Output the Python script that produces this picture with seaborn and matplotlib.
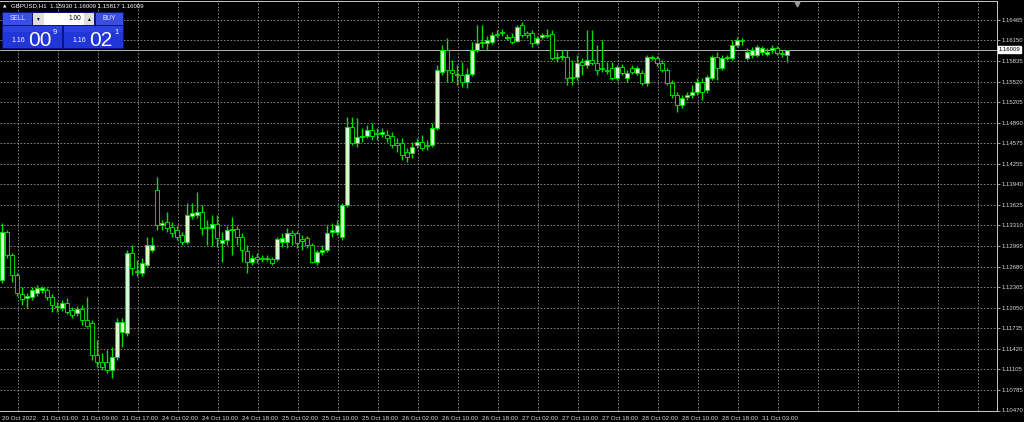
import numpy as np
import pandas as pd
import seaborn as sns
import matplotlib.pyplot as plt
from matplotlib.patches import Rectangle
from matplotlib.transforms import blended_transform_factory

# GBPUSD H1 candles (oldest first)
opens = [
    1.12475, 1.13212, 1.12859, 1.12552, 1.12261, 1.12199, 1.12215, 1.12276, 1.12322, 1.12322,
    1.12215, 1.12077, 1.12046, 1.12123, 1.12015, 1.11969, 1.12031, 1.11862, 1.11816, 1.11324,
    1.11217, 1.11217, 1.11094, 1.11294, 1.11677, 1.11662, 1.12890, 1.12613, 1.12583, 1.12706,
    1.12936, 1.13856, 1.13319, 1.13365, 1.13289, 1.13243, 1.13166, 1.13058, 1.13457, 1.13473,
    1.13519, 1.13289, 1.13273, 1.13335, 1.13043, 1.13089, 1.13243, 1.13258, 1.13136, 1.12920,
    1.12751, 1.12829, 1.12813, 1.12813, 1.12798, 1.12798, 1.13058, 1.13058, 1.13197, 1.13197,
    1.13104, 1.13120, 1.13013, 1.12751, 1.12905, 1.12936, 1.13212, 1.13212, 1.13136, 1.13626,
    1.14823, 1.14578, 1.14670, 1.14685, 1.14777, 1.14731, 1.14716, 1.14700, 1.14685, 1.14578,
    1.14578, 1.14439, 1.14424, 1.14547, 1.14593, 1.14547, 1.14547, 1.14808, 1.15667, 1.16005,
    1.15698, 1.15637, 1.15621, 1.15513, 1.15637, 1.16005, 1.16112, 1.16112, 1.16127, 1.16250,
    1.16280, 1.16189, 1.16204, 1.16143, 1.16388, 1.16265, 1.16265, 1.16112, 1.16204, 1.16235,
    1.16250, 1.15897, 1.15897, 1.15897, 1.15590, 1.15590, 1.15820, 1.15774, 1.15851, 1.15805,
    1.15728, 1.15698, 1.15728, 1.15574, 1.15744, 1.15574, 1.15728, 1.15652, 1.15652, 1.15498,
    1.15882, 1.15882, 1.15805, 1.15698, 1.15498, 1.15314, 1.15160, 1.15283, 1.15314, 1.15360,
    1.15513, 1.15391, 1.15574, 1.15897, 1.15728, 1.15882, 1.15882, 1.16081, 1.16158, 1.15882,
    1.15928, 1.15928, 1.15974, 1.15943, 1.16005, 1.16035, 1.15959, 1.15930,
]
highs = [
    1.13350, 1.13243, 1.12890, 1.12583, 1.12368, 1.12276, 1.12368, 1.12398, 1.12383, 1.12352,
    1.12261, 1.12138, 1.12169, 1.12199, 1.12061, 1.12077, 1.12092, 1.12215, 1.11862, 1.11555,
    1.11355, 1.11401, 1.11447, 1.11892, 1.11892, 1.12936, 1.13013, 1.12782, 1.12813, 1.13136,
    1.13136, 1.14056, 1.13396, 1.13519, 1.13365, 1.13304, 1.13212, 1.13657, 1.13657, 1.13825,
    1.13626, 1.13396, 1.13473, 1.13473, 1.13212, 1.13304, 1.13442, 1.13304, 1.13197, 1.13013,
    1.12859, 1.12890, 1.12859, 1.12859, 1.12829, 1.13136, 1.13197, 1.13273, 1.13243, 1.13227,
    1.13166, 1.13150, 1.13043, 1.12936, 1.13013, 1.13319, 1.13350, 1.13396, 1.13657, 1.14977,
    1.14977, 1.14961, 1.14808, 1.14854, 1.14885, 1.14808, 1.14808, 1.14777, 1.14746, 1.14654,
    1.14654, 1.14501, 1.14593, 1.14654, 1.14700, 1.14624, 1.14885, 1.15774, 1.16081, 1.16189,
    1.15851, 1.15774, 1.15820, 1.15728, 1.16127, 1.16388, 1.16388, 1.16219, 1.16280, 1.16311,
    1.16326, 1.16250, 1.16265, 1.16388, 1.16434, 1.16296, 1.16311, 1.16219, 1.16265, 1.16326,
    1.16311, 1.15974, 1.16005, 1.16005, 1.15851, 1.15928, 1.15882, 1.16311, 1.16311, 1.16081,
    1.16158, 1.15820, 1.15820, 1.15774, 1.15790, 1.15698, 1.15774, 1.15759, 1.15698, 1.15928,
    1.15928, 1.15913, 1.15851, 1.15728, 1.15544, 1.15360, 1.15314, 1.15360, 1.15467, 1.15574,
    1.15574, 1.15621, 1.15928, 1.15974, 1.15928, 1.15928, 1.16158, 1.16204, 1.16189, 1.16035,
    1.16051, 1.16081, 1.16066, 1.16035, 1.16081, 1.16066, 1.16005, 1.16009,
]
lows = [
    1.12429, 1.12813, 1.12444, 1.12230, 1.12092, 1.12046, 1.12169, 1.12230, 1.12276, 1.12169,
    1.11984, 1.11984, 1.12000, 1.11954, 1.11892, 1.11923, 1.11785, 1.11754, 1.11248, 1.11140,
    1.11094, 1.11048, 1.10972, 1.11248, 1.11447, 1.11616, 1.12552, 1.12537, 1.12537, 1.12675,
    1.12905, 1.13243, 1.13243, 1.13212, 1.13136, 1.13089, 1.13013, 1.13028, 1.13411, 1.13427,
    1.13166, 1.13013, 1.12997, 1.12982, 1.12751, 1.13013, 1.12859, 1.13013, 1.12751, 1.12583,
    1.12706, 1.12736, 1.12751, 1.12767, 1.12706, 1.12767, 1.12982, 1.12966, 1.13013, 1.12966,
    1.12936, 1.12966, 1.12736, 1.12706, 1.12859, 1.12905, 1.13136, 1.13166, 1.13089, 1.13596,
    1.14547, 1.14516, 1.14593, 1.14654, 1.14624, 1.14624, 1.14670, 1.14593, 1.14501, 1.14439,
    1.14317, 1.14286, 1.14348, 1.14501, 1.14470, 1.14470, 1.14516, 1.14777, 1.15621, 1.15513,
    1.15513, 1.15467, 1.15437, 1.15421, 1.15606, 1.15974, 1.16035, 1.16005, 1.16097, 1.16204,
    1.16219, 1.16158, 1.16097, 1.16127, 1.16204, 1.16189, 1.16051, 1.16081, 1.16173, 1.16189,
    1.15851, 1.15820, 1.15851, 1.15467, 1.15467, 1.15544, 1.15621, 1.15728, 1.15774, 1.15621,
    1.15667, 1.15637, 1.15544, 1.15544, 1.15621, 1.15513, 1.15637, 1.15621, 1.15467, 1.15452,
    1.15851, 1.15759, 1.15667, 1.15467, 1.15268, 1.15053, 1.15114, 1.15237, 1.15268, 1.15314,
    1.15237, 1.15345, 1.15544, 1.15544, 1.15698, 1.15851, 1.15851, 1.16051, 1.16081, 1.15851,
    1.15882, 1.15897, 1.15928, 1.15913, 1.15959, 1.15928, 1.15897, 1.15817,
]
closes = [
    1.13212, 1.12859, 1.12552, 1.12276, 1.12184, 1.12230, 1.12322, 1.12352, 1.12352, 1.12215,
    1.12092, 1.12061, 1.12123, 1.11984, 1.11938, 1.12031, 1.11862, 1.11770, 1.11324, 1.11217,
    1.11140, 1.11094, 1.11294, 1.11831, 1.11831, 1.12890, 1.12659, 1.12598, 1.12736, 1.13013,
    1.13013, 1.13319, 1.13350, 1.13273, 1.13197, 1.13136, 1.13058, 1.13473, 1.13504, 1.13519,
    1.13273, 1.13273, 1.13335, 1.13120, 1.13089, 1.13243, 1.13258, 1.13136, 1.12936, 1.12751,
    1.12813, 1.12798, 1.12798, 1.12798, 1.12736, 1.13104, 1.13120, 1.13197, 1.13166, 1.13043,
    1.13074, 1.13013, 1.12751, 1.12905, 1.12936, 1.13197, 1.13243, 1.13319, 1.13626, 1.14823,
    1.14578, 1.14670, 1.14685, 1.14777, 1.14685, 1.14716, 1.14746, 1.14654, 1.14547, 1.14547,
    1.14393, 1.14363, 1.14516, 1.14593, 1.14501, 1.14532, 1.14808, 1.15698, 1.16005, 1.15698,
    1.15652, 1.15621, 1.15513, 1.15637, 1.16005, 1.16112, 1.16127, 1.16158, 1.16235, 1.16235,
    1.16265, 1.16204, 1.16127, 1.16357, 1.16235, 1.16235, 1.16112, 1.16189, 1.16235, 1.16219,
    1.15882, 1.15882, 1.15913, 1.15574, 1.15574, 1.15805, 1.15774, 1.15851, 1.15805, 1.15698,
    1.15713, 1.15682, 1.15574, 1.15744, 1.15652, 1.15652, 1.15667, 1.15728, 1.15498, 1.15897,
    1.15897, 1.15805, 1.15698, 1.15498, 1.15314, 1.15160, 1.15268, 1.15314, 1.15360, 1.15513,
    1.15360, 1.15590, 1.15897, 1.15728, 1.15882, 1.15897, 1.16081, 1.16158, 1.16143, 1.15974,
    1.16005, 1.16051, 1.16035, 1.15974, 1.16035, 1.15959, 1.15943, 1.16009,
]

time_labels = [
    "20 Oct 2022", "21 Oct 01:00", "21 Oct 09:00", "21 Oct 17:00", "24 Oct 02:00",
    "24 Oct 10:00", "24 Oct 18:00", "25 Oct 02:00", "25 Oct 10:00", "25 Oct 18:00",
    "26 Oct 02:00", "26 Oct 10:00", "26 Oct 18:00", "27 Oct 02:00", "27 Oct 10:00",
    "27 Oct 18:00", "28 Oct 02:00", "28 Oct 10:00", "28 Oct 18:00", "31 Oct 03:00",
]
price_ticks = [
    1.16465, 1.16150, 1.15835, 1.15520, 1.15205, 1.14890, 1.14575, 1.14255, 1.13940, 1.13625,
    1.13310, 1.12995, 1.12680, 1.12365, 1.12050, 1.11735, 1.11420, 1.11105, 1.10785, 1.10470,
]
last_price = 1.16009
bid_price = "1.16009"
ask_price = "1.16021"

df = pd.DataFrame({"open": opens, "high": highs, "low": lows, "close": closes})
df["bar"] = np.arange(len(df))
df["bull"] = df["close"] >= df["open"]

# colori stile MetaTrader "green on black"
GREEN = "#00e000"
BULL_FILL = "#d6fbd2"
GRID = "#959595"
TXT = "#d8d8d8"

sns.set_style("dark", {"axes.facecolor": "black", "figure.facecolor": "black"})
plt.rcParams["font.family"] = ["Liberation Sans", "DejaVu Sans"]

W, H = 1024, 422
fig = plt.figure(figsize=(W / 100, H / 100), dpi=100)
ax = fig.add_axes([0, 11.5 / H, 997 / W, (410.5 - 1) / H])
ax.set_facecolor("black")

# wicks
ax.vlines(df["bar"], df["low"], df["high"], color=GREEN, lw=1.0, zorder=2)
# bodies
body_low = df[["open", "close"]].min(axis=1)
body_h = (df["close"] - df["open"]).abs().clip(lower=0.00004)
ax.bar(df["bar"], body_h, bottom=body_low, width=0.68,
       color=np.where(df["bull"], BULL_FILL, "black"),
       edgecolor=GREEN, linewidth=0.65, zorder=3)

ax.set_xlim(-0.4, 199)
ax.set_ylim(1.10473, 1.16756)

# assi e griglia
ax.yaxis.tick_right()
ax.set_yticks(price_ticks)
ax.set_yticklabels([f"{p:.5f}" for p in price_ticks])
ax.set_xticks(np.arange(len(time_labels)) * 8)
ax.set_xticklabels(time_labels, ha="left")
ax.set_xticks(np.arange(3.2, 199, 8), minor=True)
ax.tick_params(axis="y", colors=TXT, labelsize=4.3, length=2, width=0.5, pad=1)
ax.tick_params(axis="x", which="major", colors=TXT, labelsize=4.5, length=2.5, width=0.5, pad=1.2)
ax.tick_params(axis="x", which="minor", length=0)
for lbl in ax.get_xticklabels():
    lbl.set_color(TXT)
ax.grid(axis="y", which="major", color=GRID, ls=(0, (2, 2)), lw=0.6)
ax.grid(axis="x", which="minor", color=GRID, ls=(0, (2, 2)), lw=0.6)
ax.grid(axis="x", which="major", visible=False)
for side in ["right", "bottom", "top"]:
    ax.spines[side].set_visible(True)
    ax.spines[side].set_color("#c8c8c8")
    ax.spines[side].set_linewidth(0.7)
ax.spines["left"].set_visible(False)

# linea prezzo corrente
ax.axhline(last_price, color="#b4b4b4", lw=0.7, zorder=1)
tr = blended_transform_factory(ax.transAxes, ax.transData)
ax.text(1.0015, last_price, f"{last_price:.5f}", transform=tr, fontsize=4.3,
        color="black", va="center", ha="left", clip_on=False,
        bbox=dict(boxstyle="square,pad=0.12", fc="white", ec="white"))

# overlay in pixel per pannello trading e intestazione
ov = fig.add_axes([0, 0, 1, 1], facecolor="none")
ov.set_xlim(0, W)
ov.set_ylim(H, 0)
ov.axis("off")

ov.text(3, 6, "\u25B2", fontsize=3.2, color="white", va="center", ha="left",
        family="DejaVu Sans")
ov.text(11, 6, "GBPUSD,H1  1.15930 1.16009 1.15817 1.16009",
        fontsize=4.4, color="white", va="center", ha="left")
ov.plot([797], [4], marker="v", ms=3.5, color="#9a9a9a", ls="none")

BLUE = "#2136d6"
ov.add_patch(Rectangle((2, 12), 122, 37, fc="#0b1480", ec="none"))
ov.add_patch(Rectangle((3, 13), 29, 12, fc="#3a4fe0", ec="none"))
ov.add_patch(Rectangle((96, 13), 27, 12, fc="#3a4fe0", ec="none"))
ov.add_patch(Rectangle((33, 13), 11, 12, fc="#dedede", ec="none"))
ov.add_patch(Rectangle((44, 13), 40, 12, fc="white", ec="none"))
ov.add_patch(Rectangle((84, 13), 10, 12, fc="#dedede", ec="none"))
ov.add_patch(Rectangle((3, 26), 59, 22, fc=BLUE, ec="none"))
ov.add_patch(Rectangle((64, 26), 59, 22, fc=BLUE, ec="none"))
ov.add_patch(Rectangle((3, 26), 59, 6, fc="#2c42e0", ec="none"))
ov.add_patch(Rectangle((64, 26), 59, 6, fc="#2c42e0", ec="none"))

ov.text(17.5, 19, "SELL", fontsize=4.8, color="#e8ecff", ha="center", va="center")
ov.text(109.5, 19, "BUY", fontsize=4.8, color="#e8ecff", ha="center", va="center")
ov.text(38.5, 19, "\u25BE", fontsize=4, color="black", ha="center", va="center",
        family="DejaVu Sans")
ov.text(89, 19, "\u25B4", fontsize=4, color="black", ha="center", va="center",
        family="DejaVu Sans")
ov.text(81, 19, "1.00", fontsize=4.8, color="black", ha="right", va="center")

for x0, price in [(3, bid_price), (64, ask_price)]:
    ov.text(x0 + 8, 42, price[:4], fontsize=5, color="white", ha="left", va="baseline")
    ov.text(x0 + 25, 45.5, price[4:6], fontsize=15, color="white", ha="left", va="baseline")
    ov.text(x0 + 50, 33.5, price[6], fontsize=5.3, color="white", ha="left", va="baseline")

fig.savefig("out.png", dpi=100, facecolor="black")
